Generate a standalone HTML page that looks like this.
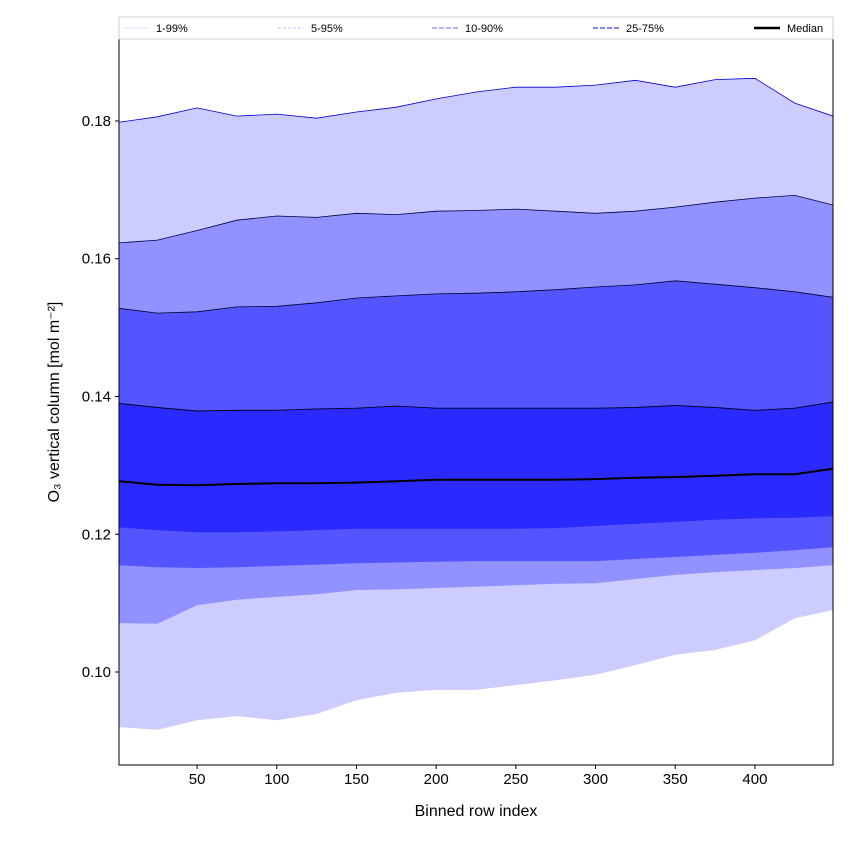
<!DOCTYPE html>
<html><head><meta charset="utf-8"><style>
body{margin:0;background:#fff;width:850px;height:850px;overflow:hidden}
svg text{font-family:"Liberation Sans","Noto Sans CJK SC",sans-serif}
</style></head><body>
<svg id="chart" width="850" height="850"></svg>
<script>
const xs=[1,25,50,75,100,125,150,175,200,225,250,275,300,325,350,375,400,425,449];
const p99=[0.1798,0.1806,0.1819,0.1807,0.1810,0.1804,0.1813,0.1820,0.1832,0.1842,0.1849,0.1849,0.1852,0.1859,0.1849,0.1860,0.1862,0.1826,0.1807];
const p95=[0.1623,0.1627,0.1641,0.1656,0.1662,0.1660,0.1666,0.1664,0.1669,0.1670,0.1672,0.1669,0.1666,0.1669,0.1675,0.1682,0.1688,0.1692,0.1678];
const p90=[0.1528,0.1521,0.1523,0.1530,0.1531,0.1536,0.1543,0.1546,0.1549,0.1550,0.1552,0.1555,0.1559,0.1562,0.1568,0.1563,0.1558,0.1552,0.1544];
const p75=[0.1390,0.1384,0.1379,0.1380,0.1380,0.1382,0.1383,0.1386,0.1383,0.1383,0.1383,0.1383,0.1383,0.1384,0.1387,0.1384,0.1380,0.1383,0.1392];
const med=[0.1277,0.1272,0.1271,0.1273,0.1274,0.1274,0.1275,0.1277,0.1279,0.1279,0.1279,0.1279,0.1280,0.1282,0.1283,0.1285,0.1287,0.1287,0.1295];
const p25=[0.1210,0.1206,0.1203,0.1203,0.1204,0.1206,0.1208,0.1208,0.1208,0.1208,0.1208,0.1209,0.1212,0.1215,0.1218,0.1221,0.1223,0.1224,0.1226];
const p10=[0.1155,0.1152,0.1151,0.1152,0.1154,0.1156,0.1158,0.1159,0.1160,0.1161,0.1161,0.1161,0.1161,0.1164,0.1167,0.1170,0.1173,0.1177,0.1181];
const p5=[0.1071,0.1070,0.1097,0.1105,0.1109,0.1113,0.1119,0.1120,0.1122,0.1124,0.1126,0.1128,0.1129,0.1135,0.1141,0.1145,0.1148,0.1151,0.1155];
const p1=[0.0920,0.0916,0.0930,0.0936,0.0930,0.0939,0.0959,0.0970,0.0974,0.0974,0.0981,0.0988,0.0996,0.1010,0.1025,0.1032,0.1046,0.1078,0.1090];
const xTicks=[50,100,150,200,250,300,350,400];
const yTicks=[0.10,0.12,0.14,0.16,0.18];
const legendLabels=["1-99%","5-95%","10-90%","25-75%","Median"];

const L=119,R=833,T=39,B=765,X0=1,X1=449,Y0=0.0865,Y1=0.1919;
const sx=v=>L+(v-X0)/(X1-X0)*(R-L);
const sy=v=>B-(v-Y0)/(Y1-Y0)*(B-T);
const NS="http://www.w3.org/2000/svg";
const svg=document.getElementById('chart');
function mk(tag,attrs,parent){const e=document.createElementNS(NS,tag);for(const k in attrs)e.setAttribute(k,attrs[k]);(parent||svg).appendChild(e);return e;}
const clip=mk('clipPath',{id:'pc'});mk('rect',{x:L,y:T,width:R-L,height:B-T},clip);
const g=mk('g',{'clip-path':'url(#pc)'});


function pts(a){return xs.map((x,i)=>sx(x).toFixed(1)+','+sy(a[i]).toFixed(1));}
function band(lo,hi,fill,name){
  const p=mk('polygon',{points:pts(hi).concat(pts(lo).reverse()).join(' '),fill:fill},g);
  
  
}
band(p1,p99,'#ccccff','band-1-99');
band(p5,p95,'#9191ff','band-5-95');
band(p10,p90,'#5555ff','band-10-90');
band(p25,p75,'#2a2aff','band-25-75');
function line(a,stroke,w,name){
  const l=mk('polyline',{points:pts(a).join(' '),fill:'none',stroke:stroke,'stroke-width':w},g);
  
  
}
line(p99,'#0000cc',0.8,'line-p99');
line(p95,'#000044',0.8,'line-p95');
line(p90,'#000033',0.8,'line-p90');
line(p75,'#000022',0.9,'line-p75');
line(med,'#000000',2,'line-median');
const frame=mk('rect',{x:L,y:T,width:R-L,height:B-T,fill:'none',stroke:'#000','stroke-width':1});


xTicks.forEach(v=>{
  mk('line',{x1:sx(v),x2:sx(v),y1:B,y2:B+4,stroke:'#000'});
  const t=mk('text',{x:sx(v),y:B+19,'text-anchor':'middle','font-size':15});t.textContent=v;
  
  
});
yTicks.forEach(v=>{
  mk('line',{x1:L-4,x2:L,y1:sy(v),y2:sy(v),stroke:'#000'});
  const t=mk('text',{x:L-8,y:sy(v)+5,'text-anchor':'end','font-size':15});t.textContent=v.toFixed(2);
  
  
});
const xt=mk('text',{x:(L+R)/2,y:816,'text-anchor':'middle','font-size':16});xt.textContent='Binned row index';


const yt=mk('text',{x:0,y:0,transform:'translate(59,402) rotate(-90)','text-anchor':'middle','font-size':16});yt.textContent='O₃ vertical column [mol m⁻²]';


// legend
const lg=mk('g',{});


mk('rect',{x:L,y:17,width:R-L,height:22,fill:'#fff',stroke:'#ccc','stroke-width':1},lg);
const lx=[123,278,432,593,754];
const lstyle=[['#ddddff',0.8,''],['#aaaaee',0.8,'3,2'],['#8888ee',1.2,'5,2'],['#7777ff',1.8,'5,2'],['#000',2.5,'']];
legendLabels.forEach((s,i)=>{
  const e=mk('g',{},lg);
  
  
  mk('line',{x1:lx[i],x2:lx[i]+26,y1:28,y2:28,stroke:lstyle[i][0],'stroke-width':lstyle[i][1],'stroke-dasharray':lstyle[i][2]},e);
  const t=mk('text',{x:lx[i]+33,y:32,'font-size':11},e);t.textContent=s;
});
</script>
</body></html>
